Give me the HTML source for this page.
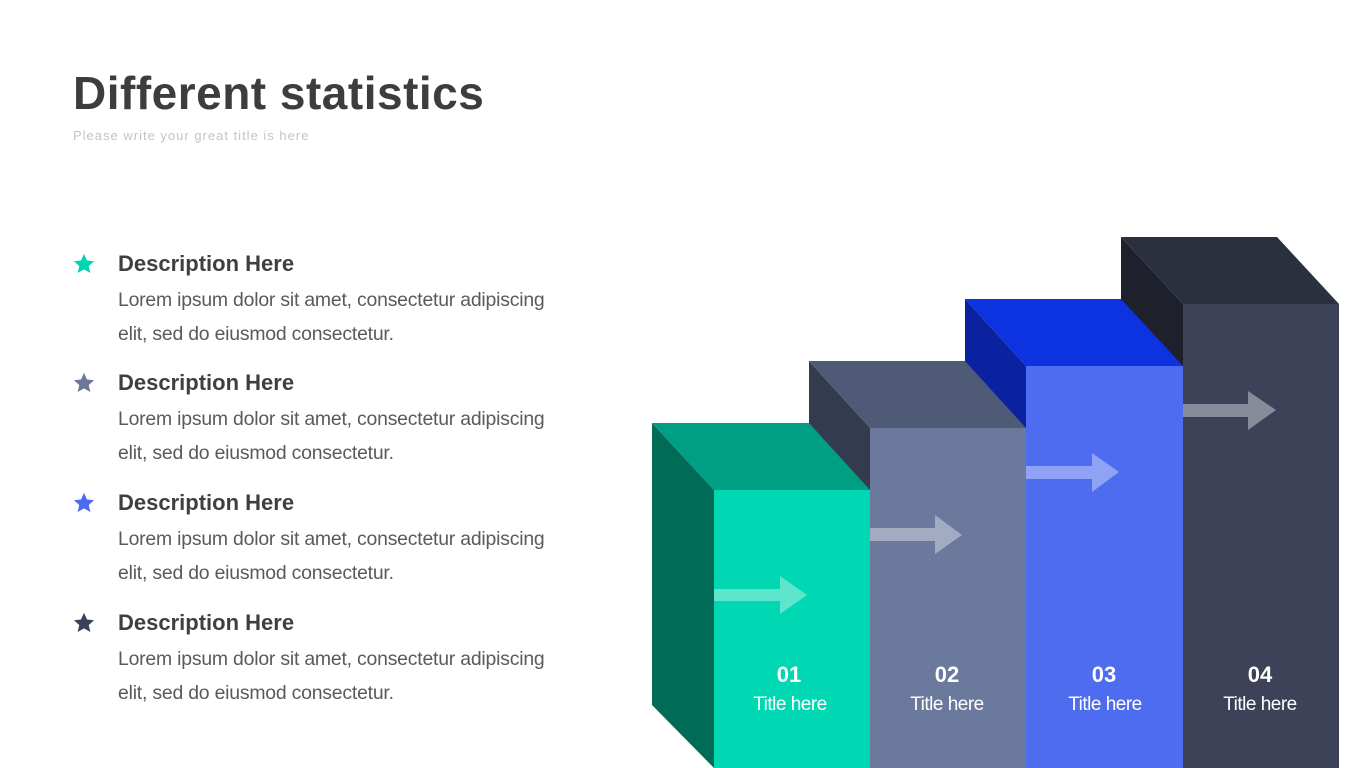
<!DOCTYPE html>
<html><head><meta charset="utf-8"><style>
body{margin:0;width:1365px;height:768px;background:#fff;overflow:hidden;position:relative;font-family:"Liberation Sans",sans-serif}
.t{position:absolute;left:73px;top:66px;font-size:46px;font-weight:bold;color:#3d3d3d;letter-spacing:0.5px}
.s{position:absolute;left:73px;top:128px;font-size:13px;color:#c4c4c4;letter-spacing:1px}
.it{position:absolute;left:118px}
.h{font-size:22px;font-weight:bold;color:#3f3f3f;height:34px;line-height:34px}
.p{font-size:19.4px;color:#5a5a5a;line-height:34px;margin-top:2px;letter-spacing:-0.2px}
.star{position:absolute;left:-45px;top:6px}
</style></head><body>
<div class="t">Different statistics</div>
<div class="s">Please write your great title is here</div>
<div class="it" style="top:247px"><svg class="star" width="22" height="22" viewBox="0 0 24 24"><path d="M12 1l3.3 7.2 7.7.8-5.8 5.2 1.7 7.6L12 17.9 5.1 21.8l1.7-7.6L1 9l7.7-.8z" fill="#00d4b0"/></svg><div class="h">Description Here</div><div class="p">Lorem ipsum dolor sit amet, consectetur adipiscing<br>elit, sed do eiusmod consectetur.</div></div>
<div class="it" style="top:366px"><svg class="star" width="22" height="22" viewBox="0 0 24 24"><path d="M12 1l3.3 7.2 7.7.8-5.8 5.2 1.7 7.6L12 17.9 5.1 21.8l1.7-7.6L1 9l7.7-.8z" fill="#6b7899"/></svg><div class="h">Description Here</div><div class="p">Lorem ipsum dolor sit amet, consectetur adipiscing<br>elit, sed do eiusmod consectetur.</div></div>
<div class="it" style="top:486px"><svg class="star" width="22" height="22" viewBox="0 0 24 24"><path d="M12 1l3.3 7.2 7.7.8-5.8 5.2 1.7 7.6L12 17.9 5.1 21.8l1.7-7.6L1 9l7.7-.8z" fill="#4b6cf0"/></svg><div class="h">Description Here</div><div class="p">Lorem ipsum dolor sit amet, consectetur adipiscing<br>elit, sed do eiusmod consectetur.</div></div>
<div class="it" style="top:606px"><svg class="star" width="22" height="22" viewBox="0 0 24 24"><path d="M12 1l3.3 7.2 7.7.8-5.8 5.2 1.7 7.6L12 17.9 5.1 21.8l1.7-7.6L1 9l7.7-.8z" fill="#3b4057"/></svg><div class="h">Description Here</div><div class="p">Lorem ipsum dolor sit amet, consectetur adipiscing<br>elit, sed do eiusmod consectetur.</div></div>
<svg style="position:absolute;left:0;top:0" width="1365" height="768">
<polygon points="1121,237 1183,304 1183,768 1121,700" fill="#1e212c"/>
<polygon points="1121,237 1277,237 1339,304 1183,304" fill="#2b303f"/>
<rect x="1183" y="304" width="156" height="464" fill="#3d4258"/>
<polygon points="965,299 1026,366 1026,768 965,700" fill="#0a22a0"/>
<polygon points="965,299 1121,299 1183,366 1026,366" fill="#0d33e0"/>
<rect x="1026" y="366" width="157" height="402" fill="#4d6cf0"/>
<polygon points="809,361 870,428 870,768 809,700" fill="#353b4f"/>
<polygon points="809,361 965,361 1026,428 870,428" fill="#4e5a76"/>
<rect x="870" y="428" width="156" height="340" fill="#6b799c"/>
<polygon points="652,423 714,490 714,768 652,705" fill="#006b56"/>
<polygon points="652,423 809,423 870,490 714,490" fill="#009e84"/>
<rect x="714" y="490" width="156" height="278" fill="#00d8b4"/>
<polygon points="714,589 780,589 780,576 807,595 780,614 780,601 714,601" fill="#5ee6cc"/>
<polygon points="870,528 935,528 935,515 962,535 935,554 935,541 870,541" fill="#a3abc2"/>
<polygon points="1026,466 1092,466 1092,453 1119,472 1092,492 1092,479 1026,479" fill="#8fa2f5"/>
<polygon points="1183,404 1248,404 1248,391 1276,410 1248,430 1248,417 1183,417" fill="#888b99"/>
<g fill="#fff" font-family="Liberation Sans, sans-serif" text-anchor="middle">
<text x="789" y="682" font-size="22" font-weight="bold">01</text><text x="790" y="710" font-size="19" letter-spacing="-0.5">Title here</text>
<text x="947" y="682" font-size="22" font-weight="bold">02</text><text x="947" y="710" font-size="19" letter-spacing="-0.5">Title here</text>
<text x="1104" y="682" font-size="22" font-weight="bold">03</text><text x="1105" y="710" font-size="19" letter-spacing="-0.5">Title here</text>
<text x="1260" y="682" font-size="22" font-weight="bold">04</text><text x="1260" y="710" font-size="19" letter-spacing="-0.5">Title here</text>
</g>
</svg>
</body></html>
